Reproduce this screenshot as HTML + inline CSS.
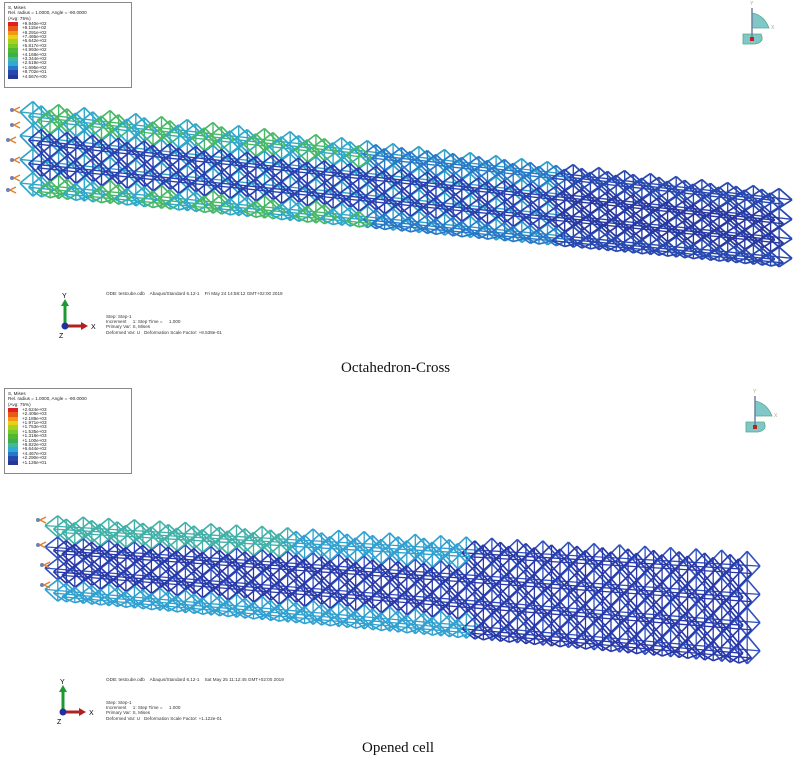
<!DOCTYPE html>
<html><head><meta charset="utf-8">
<style>
body{margin:0;background:#fff;width:800px;height:762px;overflow:hidden;position:relative;font-family:"Liberation Sans",sans-serif}
.leg{position:absolute;border:1px solid #888;background:#fff;font-size:4.6px;line-height:5.3px;color:#222;padding:2px 3px}
.cap{position:absolute;font-family:"Liberation Serif",serif;font-size:15px;color:#111}
.sm{position:absolute;font-size:4.6px;line-height:5.2px;color:#333;white-space:pre}
</style></head><body>
<svg id="s" width="800" height="762" style="position:absolute;left:0;top:0"></svg>

<div class="leg" style="left:4px;top:2px;width:120px;height:80px">S, Mises<br>Rel. radius = 1.0000, Angle = -90.0000<br>(Avg: 75%)
<div id="l1" style="position:relative;margin-top:1px"></div></div>
<div class="leg" style="left:4px;top:388px;width:120px;height:80px">S, Mises<br>Rel. radius = 1.0000, Angle = -90.0000<br>(Avg: 75%)
<div id="l2" style="position:relative;margin-top:1px"></div></div>

<div class="sm" style="left:106px;top:291px">ODB: testcube.odb    Abaqus/Standard 6.12-1    Fri May 24 14:58:12 GMT+02:00 2019</div>
<div class="sm" style="left:106px;top:314px">Step: Step-1
Increment     1: Step Time =     1.000
Primary Var: S, Mises
Deformed Var: U   Deformation Scale Factor: +8.538e-01</div>
<div class="sm" style="left:106px;top:677px">ODB: testcube.odb    Abaqus/Standard 6.12-1    Sat May 25 11:12:45 GMT+02:00 2019</div>
<div class="sm" style="left:106px;top:700px">Step: Step-1
Increment     1: Step Time =     1.000
Primary Var: S, Mises
Deformed Var: U   Deformation Scale Factor: +1.122e-01</div>

<div class="cap" style="left:341px;top:360px">Octahedron-Cross</div>
<div class="cap" style="left:362px;top:740px">Opened cell</div>

<script>
var cols=["#e02020","#e85a18","#f09a10","#e8d018","#a8d020","#78c828","#50b830","#38b050","#40b8a0","#30a8d8","#2878c8","#2848b0","#283890"];
var v1=["+9.940e+02","+9.115e+02","+8.291e+02","+7.466e+02","+6.642e+02","+5.817e+02","+4.993e+02","+4.168e+02","+3.344e+02","+2.519e+02","+1.695e+02","+8.702e+01","+4.567e+00"];
var v2=["+2.624e+03","+2.406e+03","+2.189e+03","+1.971e+03","+1.753e+03","+1.535e+03","+1.318e+03","+1.100e+03","+8.822e+02","+6.644e+02","+4.467e+02","+2.290e+02","+1.126e+01"];
function leg(id,v){var h="";for(var i=0;i<13;i++){h+='<div style="position:absolute;left:0;top:'+(i*4.4)+'px;width:10px;height:4.4px;background:'+cols[i]+'"></div><div style="position:absolute;left:14px;top:'+(i*4.4-1)+'px">'+v[i]+'</div>';}document.getElementById(id).innerHTML=h;}
leg("l1",v1);leg("l2",v2);
var S=document.getElementById("s"),out="";
function ln(a,b,c,w){out+='<line x1="'+a[0].toFixed(1)+'" y1="'+a[1].toFixed(1)+'" x2="'+b[0].toFixed(1)+'" y2="'+b[1].toFixed(1)+'" stroke="'+c+'" stroke-width="'+w+'"/>';}
function lattice(T0,T1,B0,B1,N,R,col,w,L){
 function P(u,v){var tx=T0[0]+(T1[0]-T0[0])*u,ty=T0[1]+(T1[1]-T0[1])*u,bx=B0[0]+(B1[0]-B0[0])*u,by=B0[1]+(B1[1]-B0[1])*u;return [tx+(bx-tx)*v,ty+(by-ty)*v];}
 for(var layer=0;layer<L;layer++){var off=layer*0.5/N/ (L>2?1.5:1),dv=layer*0.035;
 for(var i=0;i<N;i++){for(var j=0;j<R;j++){
  var u0=i/N+off,u1=(i+1)/N+off,um=(u0+u1)/2;if(u1>1)continue;
  var v0=j/R+dv,v1=(j+1)/R+dv,vm=(v0+v1)/2;if(v1>1.0)v1=1;
  var c=col(um,vm,layer);
  ln(P(um,v0),P(u1,vm),c,w);ln(P(u1,vm),P(um,v1),c,w);ln(P(um,v1),P(u0,vm),c,w);ln(P(u0,vm),P(um,v0),c,w);
  ln(P(u0,vm),P(u1,vm),c,w*0.8);ln(P(um,v0),P(um,v1),c,w*0.8);
 }}}
}
lattice([20,100],[792,190],[20,195],[792,268],30,4,function(u,v,l){
 if(v>0.3&&v<0.75&&l>=1)return u<0.7?"#2840b0":"#2838a0";
 if(u<0.45&&(v<0.3||v>0.8))return (Math.floor(u*30)%2)?"#48b868":"#30a8c8";
 if(u<0.7)return l?"#2878c8":"#30a0c8";
 return "#2848b0";},1.7,3);
lattice([45,515],[760,552],[45,600],[760,665],28,4,function(u,v,l){
 if(u<0.35&&v<0.3)return "#40b0a8";
 if(u<0.6&&(v<0.25||v>0.85))return "#30a0d0";
 return l?"#2838a8":"#3050c0";},1.6,3);
var sup=[[12,110],[12,125],[8,140],[12,160],[12,178],[8,190],[38,520],[38,545],[42,565],[42,585]];
sup.forEach(function(p){out+='<circle cx="'+p[0]+'" cy="'+p[1]+'" r="2" fill="#7080b0"/><path d="M'+(p[0]+2)+' '+p[1]+'l6 -3m-6 3l6 3" stroke="#e08030" stroke-width="1.5"/>';});
function triad(x,y){out+='<line x1="'+x+'" y1="'+y+'" x2="'+x+'" y2="'+(y-22)+'" stroke="#1a9a30" stroke-width="3"/><path d="M'+(x-4)+' '+(y-20)+'l4 -7l4 7z" fill="#1a9a30"/><line x1="'+x+'" y1="'+y+'" x2="'+(x+18)+'" y2="'+y+'" stroke="#b02020" stroke-width="3"/><path d="M'+(x+16)+' '+(y-4)+'l7 4l-7 4z" fill="#b02020"/><circle cx="'+x+'" cy="'+y+'" r="3.5" fill="#2030a0"/><text x="'+(x-3)+'" y="'+(y-28)+'" font-size="7" font-family="Liberation Sans">Y</text><text x="'+(x+26)+'" y="'+(y+3)+'" font-size="7" font-family="Liberation Sans">X</text><text x="'+(x-6)+'" y="'+(y+12)+'" font-size="7" font-family="Liberation Sans">Z</text>';}
triad(65,326);triad(63,712);
function icon(x,y){out+='<path d="M'+(x+3)+' '+(y+13)+'q12 2 17 15h-17z" fill="#80c8c8" stroke="#5a8" stroke-width=".8"/><path d="M'+(x-6)+' '+(y+34)+'h18q4 8-6 10h-12z" fill="#80c8c8" stroke="#5a8" stroke-width=".8"/><line x1="'+(x+3)+'" y1="'+(y+8)+'" x2="'+(x+3)+'" y2="'+(y+40)+'" stroke="#7080a0" stroke-width="1.5"/><rect x="'+(x+1)+'" y="'+(y+37)+'" width="4" height="4" fill="#c02020"/><text x="'+(x+1)+'" y="'+(y+5)+'" font-size="5" fill="#aa8" font-family="Liberation Sans">Y</text><text x="'+(x+22)+'" y="'+(y+29)+'" font-size="5" fill="#aa8" font-family="Liberation Sans">X</text>';}
icon(749,0);icon(752,388);
S.innerHTML=out;
</script>
</body></html>
